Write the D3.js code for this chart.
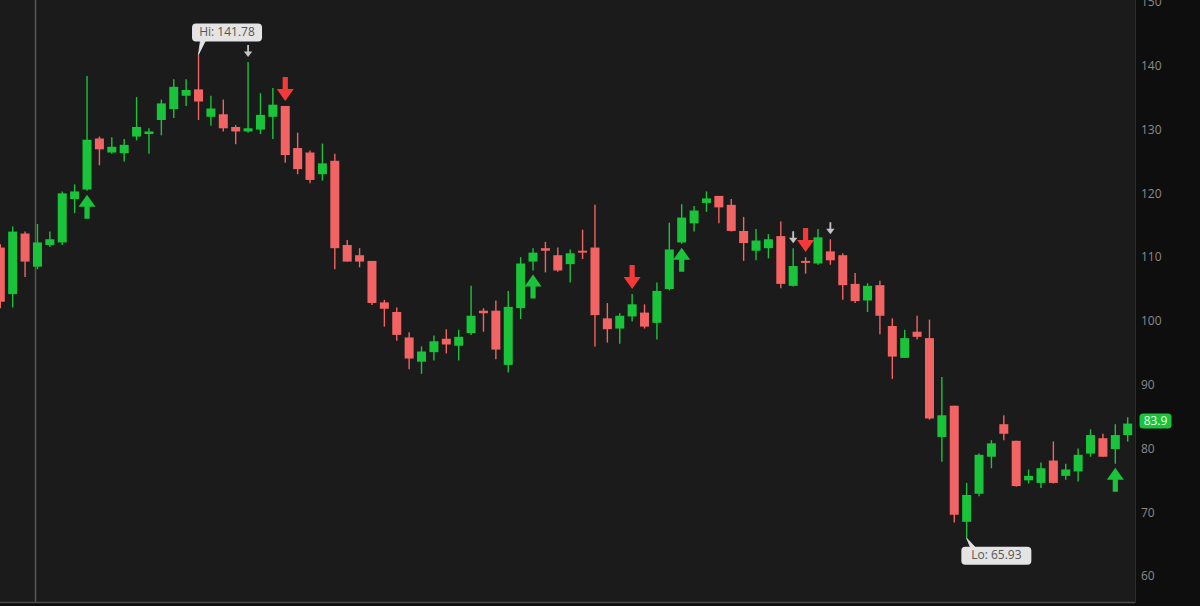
<!DOCTYPE html>
<html>
<head>
<meta charset="utf-8">
<script src="https://cdn.jsdelivr.net/npm/d3@7"></script>
<style>
html,body{margin:0;padding:0;background:#0e0e0e;}
svg{display:block;}
text{font-family:"Open Sans","Noto Sans",sans-serif;}
</style>
</head>
<body>
<svg id="chart" width="1200" height="606"></svg>
<script>
// ---- data ----
const opens  = [111.5,104.2,113.7,108.5,111.9,112.3,119.1,120.6,128.6,126.4,126.3,128.9,129.3,131.5,133.2,135.3,136.3,132.0,132.4,130.4,129.7,130.0,132.0,133.7,127.1,126.4,123.0,125.1,111.9,110.3,109.4,102.9,101.4,97.4,93.6,95.1,97.2,96.1,98.1,101.6,101.6,93.1,102.0,109.3,111.4,110.3,108.9,111.0,111.5,100.4,98.8,100.7,101.3,99.7,105.0,112.3,115.3,118.5,119.6,118.2,114.1,111.0,111.4,113.3,105.5,109.4,109.0,110.9,110.3,105.8,103.2,105.6,99.2,94.2,98.3,97.3,81.8,86.7,68.5,72.9,78.7,83.8,81.2,75.0,74.6,78.1,75.7,76.4,79.2,81.6,79.9,82.1];
const highs  = [112.0,114.8,114.0,115.2,114.0,120.3,121.4,138.4,128.9,128.8,128.5,135.1,130.2,134.7,137.9,137.9,141.78,135.3,134.7,130.7,140.6,135.7,136.5,133.7,129.5,126.7,127.8,126.2,112.7,111.4,109.4,103.3,102.1,98.2,96.0,97.7,98.7,98.6,105.5,102.0,103.2,104.7,110.0,111.4,112.4,111.5,111.2,114.3,118.2,102.8,101.2,104.2,102.6,106.0,115.4,118.3,118.0,120.3,119.6,119.1,116.3,114.4,113.6,115.6,111.4,110.0,114.4,112.8,110.6,107.5,105.9,106.3,100.4,98.6,100.8,100.2,91.2,86.7,74.6,79.2,81.3,85.2,81.2,76.7,77.8,81.1,77.6,80.0,83.0,82.3,83.8,84.9];
const lows   = [102.0,102.1,106.9,108.1,111.6,111.9,116.9,120.4,124.4,126.2,125.0,128.3,126.2,129.1,131.8,133.7,131.5,130.6,129.7,127.7,129.5,129.3,128.5,124.8,123.0,121.6,122.0,108.1,109.3,108.4,102.5,99.1,96.9,92.4,91.7,93.8,94.9,93.8,97.8,98.3,94.0,91.9,100.3,107.9,107.6,107.7,106.0,109.7,96.0,96.6,96.4,99.9,98.8,97.1,104.8,112.1,114.0,117.1,115.3,114.0,109.4,109.5,109.8,105.1,105.4,107.4,108.8,108.8,103.3,102.8,101.4,97.9,90.9,94.2,97.1,84.5,77.9,68.4,65.93,72.5,76.9,81.3,74.0,74.5,73.8,74.5,75.1,74.8,78.7,78.7,77.6,81.1];
const closes = [103.0,114.0,109.3,112.3,112.8,120.0,120.3,128.4,126.9,127.3,127.6,130.4,129.7,134.1,136.7,136.2,134.4,133.3,130.2,129.7,130.2,132.3,133.9,126.0,123.8,122.1,124.7,111.4,109.3,109.3,102.8,101.9,97.8,94.1,95.2,96.8,96.3,97.5,100.8,101.2,95.5,102.2,109.0,110.7,111.0,107.9,110.6,110.7,100.9,98.7,100.8,102.6,99.1,104.7,111.2,116.2,117.3,119.2,117.8,114.1,112.2,112.6,112.8,105.8,108.6,109.1,113.1,109.5,105.6,103.1,105.5,100.8,94.4,97.3,97.5,84.7,85.2,69.6,72.7,79.0,80.8,82.3,74.1,75.7,76.9,74.6,76.7,79.0,82.1,78.7,82.1,83.9];
const yTicks = [60,70,80,90,100,110,120,130,140,150];
const buySignals  = [7,43,55,90];      // green up arrows
const sellSignals = [23,51,65];        // red down arrows
const markSignals = [20,64,67];        // small grey down arrows
const hiIndex = 16, hiLabel = "Hi: 141.78";
const loIndex = 78, loLabel = "Lo: 65.93";
const lastLabel = "83.9";

// ---- layout ----
const W = 1200, H = 606, plotRight = 1135, plotBottom = 603;
const GREEN = "#19c43a", RED = "#f26363", RED_ARROW = "#f53838", GREY = "#c4c4c4";

const svg = d3.select("#chart");
const x = d3.scaleLinear().domain([0, opens.length - 1]).range([0.3, 1127.7]);
const y = d3.scaleLinear().domain([60, 150]).range([576, 2]);

svg.append("rect").attr("x",0).attr("y",0).attr("width",W).attr("height",H).attr("fill","#0e0e0e");
svg.append("rect").attr("x",0).attr("y",0).attr("width",plotRight).attr("height",plotBottom).attr("fill","#1b1b1b");

svg.append("defs").append("clipPath").attr("id","plotclip")
  .append("rect").attr("x",0).attr("y",0).attr("width",plotRight).attr("height",plotBottom);

// separators
svg.append("line").attr("x1",35.5).attr("x2",35.5).attr("y1",0).attr("y2",plotBottom)
  .attr("stroke","#575757").attr("stroke-width",1.5);
svg.append("line").attr("x1",0).attr("x2",plotRight).attr("y1",602.5).attr("y2",602.5)
  .attr("stroke","#4a4a4a").attr("stroke-width",1.5);
svg.append("line").attr("x1",plotRight+0.5).attr("x2",plotRight+0.5).attr("y1",0).attr("y2",plotBottom)
  .attr("stroke","#2c2c2c").attr("stroke-width",1);

const g = svg.append("g").attr("clip-path","url(#plotclip)");
const data = opens.map((o,i)=>({i, o, h:highs[i], l:lows[i], c:closes[i]}));
const bodyW = 9;

const candles = g.selectAll("g.c").data(data).join("g").attr("class","c");
candles.append("line")
  .attr("x1",d=>x(d.i)).attr("x2",d=>x(d.i))
  .attr("y1",d=>y(d.h)).attr("y2",d=>y(d.l))
  .attr("stroke",d=>d.c>=d.o?GREEN:RED).attr("stroke-width",1.4);
candles.append("rect")
  .attr("x",d=>x(d.i)-bodyW/2).attr("width",bodyW)
  .attr("y",d=>y(Math.max(d.o,d.c)))
  .attr("height",d=>Math.max(1.6, Math.abs(y(d.o)-y(d.c))))
  .attr("fill",d=>d.c>=d.o?GREEN:RED);

// arrows
function upArrow(cx, top, col){
  const hw=8.5, hh=12, sw=2.6, len=24;
  return `M${cx},${top} L${cx+hw},${top+hh} L${cx+sw},${top+hh} L${cx+sw},${top+len} L${cx-sw},${top+len} L${cx-sw},${top+hh} L${cx-hw},${top+hh} Z`;
}
function downArrow(cx, tip, col, hw=8.5, hh=12, sw=2.6, len=24){
  return `M${cx},${tip} L${cx+hw},${tip-hh} L${cx+sw},${tip-hh} L${cx+sw},${tip-len} L${cx-sw},${tip-len} L${cx-sw},${tip-hh} L${cx-hw},${tip-hh} Z`;
}
g.selectAll("path.buy").data(buySignals).join("path").attr("class","buy")
  .attr("d",i=>upArrow(x(i), y(lows[i])+4)).attr("fill",GREEN);
g.selectAll("path.sell").data(sellSignals).join("path").attr("class","sell")
  .attr("d",i=>downArrow(x(i), y(highs[i])-5)).attr("fill",RED_ARROW);
g.selectAll("path.mark").data(markSignals).join("path").attr("class","mark")
  .attr("d",i=>downArrow(x(i), y(highs[i])-5, null, 4.2, 5.5, 0.9, 12)).attr("fill",GREY);

// Hi / Lo callouts
function callout(idx, val, label, above){
  const cx = x(idx), cy = y(val);
  const bw = 70, bh = 18;
  const bx = above ? cx - 6.5 : cx - 5.3;
  const by = above ? cy - 31 : cy + 8.5;
  const grp = svg.append("g");
  const tx = above ? cx + 3 : cx + 6;
  grp.append("path")
    .attr("d", above
      ? `M${cx},${cy} L${cx+2},${by+bh-1} L${cx+7},${by+bh-1} Z`
      : `M${cx},${cy} L${cx+4},${by+1} L${cx+9},${by+1} Z`)
    .attr("fill","#e4e4e4").attr("stroke","#e4e4e4").attr("stroke-width",0.8);
  grp.append("rect").attr("x",bx).attr("y",by).attr("width",bw).attr("height",bh).attr("rx",4)
    .attr("fill","#e4e4e4");
  grp.append("text").attr("x",bx+bw/2).attr("y",by+bh/2+0.5)
    .attr("text-anchor","middle").attr("dominant-baseline","middle")
    .attr("font-size",12).attr("fill","#555").text(label);
}
callout(hiIndex, highs[hiIndex], hiLabel, true);
callout(loIndex, lows[loIndex], loLabel, false);

// y axis
const axis = d3.axisRight(y).tickValues(yTicks).tickSize(0).tickPadding(6).tickFormat(d3.format("d"));
const ag = svg.append("g").attr("transform",`translate(${plotRight},0)`).call(axis);
ag.select(".domain").remove();
ag.selectAll("text").attr("fill","#8a8a8a").attr("font-size",12)
  .attr("font-family",'"Open Sans","Noto Sans",sans-serif');

// last price tag
const lastY = y(closes[closes.length-1]) - 2.5;
svg.append("rect").attr("x",1139.5).attr("y",lastY-7.5).attr("width",32).attr("height",15).attr("rx",3.5)
  .attr("fill",GREEN);
svg.append("text").attr("x",1155.5).attr("y",lastY+0.5).attr("text-anchor","middle")
  .attr("dominant-baseline","middle").attr("font-size",12).attr("fill","#eaffea").text(lastLabel);
</script>
</body>
</html>
